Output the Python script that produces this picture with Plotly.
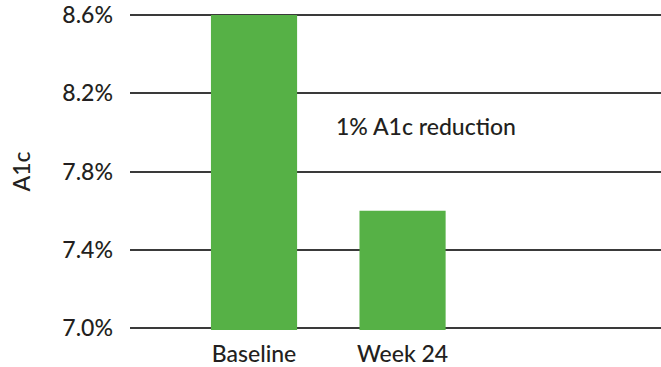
import plotly.graph_objects as go

# A1c at baseline and after 24 weeks
categories = ["Baseline", "Week 24"]
a1c_values = [8.6, 7.6]
y_ticks = [7.0, 7.4, 7.8, 8.2, 8.6]
y_tick_labels = ["7.0%", "7.4%", "7.8%", "8.2%", "8.6%"]
note_text = "1% A1c reduction"

FONT = "Lato"
SIZE = 23
TEXT_COLOR = "#231f20"
BAR_COLOR = "#56b146"
GRID_COLOR = "#3a3a3a"

label_font = dict(family=FONT, size=SIZE, color=TEXT_COLOR, weight=500)

fig = go.Figure(
    go.Bar(
        x=categories,
        y=a1c_values,
        base=0,
        width=0.58,
        marker=dict(color=BAR_COLOR, line=dict(width=0)),
        hoverinfo="skip",
    )
)

fig.add_annotation(
    x=1.16, y=8.03, xref="x", yref="y",
    text=note_text, showarrow=False,
    font=label_font,
)

fig.update_layout(
    width=661, height=367,
    margin=dict(l=130, r=0, t=13, b=37),
    paper_bgcolor="white",
    plot_bgcolor="white",
    showlegend=False,
    font=label_font,
    xaxis=dict(
        type="category",
        range=[-0.835, 2.74],
        automargin=False,
        showgrid=False,
        zeroline=False,
        showline=False,
        ticks="",
        ticklabelstandoff=8,
        tickfont=label_font,
        fixedrange=True,
    ),
    yaxis=dict(
        range=[6.99, 8.61],
        automargin=False,
        tickvals=y_ticks,
        ticktext=y_tick_labels,
        showgrid=True,
        gridcolor=GRID_COLOR,
        gridwidth=1.5,
        zeroline=False,
        showline=False,
        ticks="",
        ticklabelstandoff=16,
        ticklabeloverflow="allow",
        tickfont=label_font,
        title=dict(text="A1c", standoff=25, font=label_font),
        fixedrange=True,
    ),
)

fig.write_html("out.html")
